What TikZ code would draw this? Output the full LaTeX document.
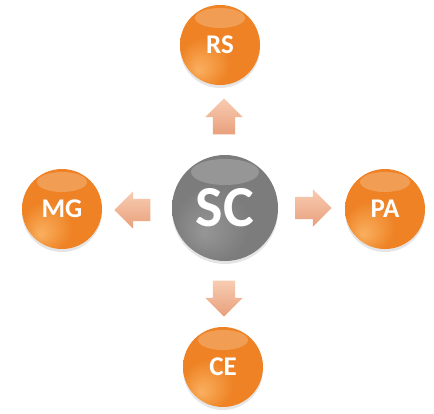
\documentclass[tikz,border=0pt]{standalone}
\usepackage{fontspec}
\setsansfont{Carlito}
\usetikzlibrary{shapes.arrows,shadows}

\definecolor{ballhi}{RGB}{250,176,96}
\definecolor{ballmain}{RGB}{238,130,36}
\definecolor{balledge}{RGB}{214,104,18}
\definecolor{hubhi}{RGB}{150,150,150}
\definecolor{hubmain}{RGB}{124,124,124}
\definecolor{hubedge}{RGB}{205,205,205}
\definecolor{arrowhi}{RGB}{248,204,178}
\definecolor{arrowlo}{RGB}{232,160,124}

\pgfdeclareradialshading{orangeball}{\pgfpoint{-14bp}{-16bp}}{color(0bp)=(ballhi); color(16bp)=(ballmain); color(42bp)=(ballmain); color(50bp)=(balledge)}
\pgfdeclareradialshading{grayball}{\pgfpoint{-10bp}{-12bp}}{color(0bp)=(hubhi); color(18bp)=(hubmain); color(43bp)=(hubmain); color(50bp)=(hubedge)}

\begin{document}
\begin{tikzpicture}[x=1pt,y=-1pt,
    ball/.style={circle, minimum size=80pt, inner sep=0pt, shading=orangeball, text=white,
      font=\sffamily\bfseries\fontsize{27}{27}\selectfont,
      drop shadow={shadow xshift=0pt, shadow yshift=-3pt, opacity=.2},
      path picture={\fill[white, opacity=.22] (path picture bounding box.north) ++(0,13) ellipse (25 and 10);}},
    hub/.style={ball, minimum size=106pt, shading=grayball,
      font=\sffamily\bfseries\fontsize{58}{58}\selectfont,
      path picture={\fill[white, opacity=.2] (path picture bounding box.north) ++(0,17) ellipse (34 and 13);}},
    blockarrow/.style={single arrow, inner sep=11pt, single arrow head extend=7.5pt,
      minimum height=36pt, top color=arrowhi, bottom color=arrowlo},
    ]
    \fill[white] (0,0) rectangle (434,413);
    \node[hub] (sc) at (225,208) {SC};
    \node[ball] (rs) at (220,45) {RS};
    \node[ball] (mg) at (62,209) {MG};
    \node[ball] (pa) at (385,209) {PA};
    \node[ball] (ce) at (223,367) {CE};
    \node[blockarrow, shape border rotate=90] (tors) at (224,122) {};
    \node[blockarrow, shape border rotate=180] (tomg) at (138,210) {};
    \node[blockarrow, shape border rotate=0] (topa) at (308,208) {};
    \node[blockarrow, shape border rotate=270] (toce) at (224,293) {};
  \end{tikzpicture}
\end{document}
